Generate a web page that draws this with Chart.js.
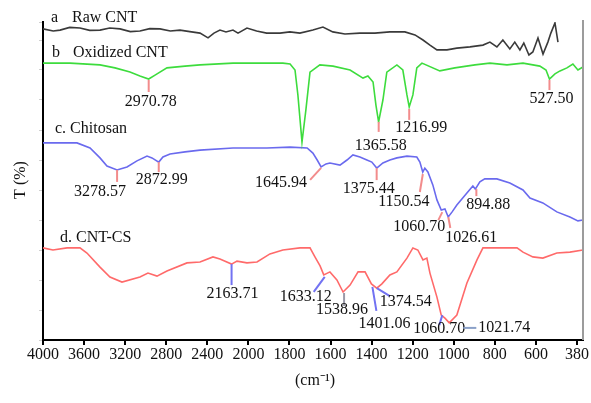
<!DOCTYPE html>
<html>
<head>
<meta charset="utf-8">
<script src="https://cdn.jsdelivr.net/npm/chart.js@4/dist/chart.umd.min.js"></script>
<style>
  html, body { margin: 0; padding: 0; background: #fff; }
  #wrap { position: relative; width: 591px; height: 403px; }
</style>
</head>
<body>
<div id="wrap"><canvas id="c" width="591" height="403"></canvas></div>
<script>
// ---------- data (wavenumber in cm^-1, transmittance in arbitrary T units) ----------
const xTickValues = [4000, 3600, 3200, 2800, 2400, 2000, 1800, 1600, 1400, 1200, 1000, 800, 600, 380];

const seriesNames = ["Raw CNT", "Oxidized CNT", "c. Chitosan", "d. CNT-CS"];

const rawWn = [4000,3900,3834,3740,3640,3545,3445,3350,3250,3150,3056,2960,2861,2760,2666,2570,2471,2393,2335,2277,2218,2150,2101,2014,1960,1911,1846,1798,1749,1686,1637,1589,1530,1457,1384,1311,1238,1189,1150,1116,1082,1033,985,921,858,824,790,761,727,703,678,659,634,615,589,562,536,520,498,482];
const rawT  = [103.7,103,103.3,104.2,104,103.2,103.3,104,103.7,102.8,103,103.8,103.7,103,103.3,102.8,102.3,100.7,102.3,103.3,102.7,103.3,102.3,104,103,102.3,102.3,102.7,102.3,103.3,104.3,102.7,102,102.3,102.3,102.7,102.7,101.7,100,98.3,96.7,96.7,97.3,97.7,98.3,99.3,97.7,100,97,99.3,96.7,99,95,96,100.7,95.3,99.3,102.3,105.7,99.3];

const oxWn = [4000,3737,3445,3299,3153,3056,2971,2909,2793,2617,2471,2150,1832,1797,1773,1759,1739,1720,1700,1652,1588,1505,1442,1418,1393,1379,1366,1345,1326,1277,1248,1228,1217,1199,1180,1155,1068,995,897,824,741,663,579,546,527.5,498,471,434,402,375,348];
const oxT  = [92.3,92.3,91.7,90.7,89.3,88,87,88.3,90.7,91.3,91.7,92.3,92.3,92,90,81.7,66,76.7,89.3,91.7,91.3,90,87.3,88,86,78.3,72.7,80,89.3,91.7,90,81.7,77.7,81.7,90.7,92.3,89.7,90.7,91.7,92.3,91.7,92.3,91.3,90,87,88.7,89.7,90.7,92,90,91];

const csWn = [4000,3669,3542,3445,3377,3279,3182,3085,2987,2939,2873,2832,2763,2617,2471,2150,1910,1797,1714,1686,1665,1646,1622,1603,1554,1520,1491,1457,1423,1399,1375,1345,1311,1277,1228,1180,1165,1151,1141,1126,1102,1082,1061,1043,1027,1008,985,936,907,895,873,849,790,727,663,629,563,488,418,375,348];
const csT  = [65.7,65.7,64,60.7,58,56.7,57.7,59.7,61.3,60.7,59.3,61,62,62.7,63.3,64,64,64.3,64,62.3,60,57.7,58.7,59,58.3,60,61.7,61,60,59.3,57.3,59,60,60.7,61.3,61,59.3,56,57.3,56,51.7,46.7,43.3,43.7,41,42.7,45,49,51.3,50.3,52.7,53.7,53.7,52.3,50,47.3,45.7,42.7,41,39.7,40];

const cntcsWn = [4000,3903,3766,3640,3572,3445,3348,3231,3056,2978,2890,2793,2598,2471,2345,2277,2164,2111,2014,1958,1895,1832,1749,1700,1676,1651,1633,1603,1569,1539,1505,1466,1432,1401,1375,1350,1311,1277,1228,1199,1175,1150,1131,1116,1082,1061,1043,1022,985,936,887,858,692,663,615,563,488,418,348];
const cntcsT  = [30.7,30,30.7,30.7,29,24.3,21,19.3,21,22.3,21.3,23,25.7,26,27.7,27,25.3,26.3,25.7,26,28.7,30,30.7,30.7,27.7,24.7,21.7,22.7,20,16,18.3,22.7,22.7,18.7,17.3,18.7,21.7,22.7,27.3,30.7,30,26.7,27.3,22.3,14.3,8.3,7.3,5.7,8.3,19,26.7,30.7,30.7,29.3,27.7,27.3,29,29.3,30];

// peak annotations: label text, wavenumber, T at the peak
const peakLabelsB = ["2970.78", "1365.58", "1216.99", "527.50"];
const peakWnB     = [2970.78, 1365.58, 1216.99, 527.50];
const peakTB      = [87, 72.7, 77.7, 87];

const peakLabelsC = ["3278.57", "2872.99", "1645.94", "1375.44", "1150.54", "1060.70", "1026.61", "894.88"];
const peakWnC     = [3278.57, 2872.99, 1645.94, 1375.44, 1150.54, 1060.70, 1026.61, 894.88];
const peakTC      = [56.7, 59.3, 57.7, 57.3, 56, 43.3, 41, 50.3];

const peakLabelsD = ["2163.71", "1633.12", "1538.96", "1401.06", "1374.54", "1060.70", "1021.74"];
const peakWnD     = [2163.71, 1633.12, 1538.96, 1401.06, 1374.54, 1060.70, 1021.74];
const peakTD      = [25.3, 21.7, 16, 18.7, 17.3, 8.3, 5.7];

// ---------- styling / geometry (not data) ----------
const FONT = '"Liberation Serif", "Times New Roman", serif';
const RED_MARK = '#f28c8c', BLUE_MARK = '#7272f2', GRAY_MARK = '#9a9aa8';
// [x1,y1,x2,y2] leader offsets and [lx,ly] label-centre offsets in px from the peak point
const styleB = [
  {line:[0,1,0,13], lab:[2,23], c:RED_MARK},
  {line:[0,0,0,10], lab:[2,24], c:RED_MARK},
  {line:[0,2,0,13], lab:[12,21], c:RED_MARK},
  {line:[0,1,0,11], lab:[2,20], c:RED_MARK}
];
const styleC = [
  {line:[0,0,0,12], lab:[-17,22], c:RED_MARK},
  {line:[0,0,0,10], lab:[3,18], c:RED_MARK},
  {line:[0,1,-11,13], lab:[-40,16], c:RED_MARK},
  {line:[0,0,0,12], lab:[-8,21], c:RED_MARK},
  {line:[0,2,-3,20], lab:[-19,30], c:RED_MARK},
  {line:[1,2,-3,10], lab:[-22,17], c:RED_MARK},
  {line:[0,0,2,11], lab:[23,21], c:RED_MARK},
  {line:[1,0,1,7], lab:[13,16], c:RED_MARK}
];
const styleD = [
  {line:[0,0,0,21], lab:[1,30], c:BLUE_MARK},
  {line:[1,2,-10,17], lab:[-18,22], c:BLUE_MARK},
  {line:[1,1,1,14], lab:[-1,18], c:GRAY_MARK},
  {line:[1,3,5,27], lab:[13,40], c:BLUE_MARK},
  {line:[0,0,13,8], lab:[29,14], c:BLUE_MARK},
  {line:[1,0,-2,10], lab:[-2,14], c:BLUE_MARK},
  {line:[14,5,27,5], lab:[55,5], c:'#8aa0c8'}
];

// ---------- broken wavenumber axis (400 per division above 2000, 200 below) ----------
const XMAX_POS = 13.146;
function wnToPos(w) {
  if (w >= 2000) return (4000 - w) / 400;
  if (w >= 600) return 5 + (2000 - w) / 200;
  return 12 + (600 - w) / 220;
}
function posToWn(p) {
  if (p <= 5) return 4000 - 400 * p;
  if (p <= 12) return 2000 - 200 * (p - 5);
  return 600 - 220 * (p - 12);
}
class BrokenWavenumberScale extends Chart.LinearScale {
  determineDataLimits() { this.min = 0; this.max = XMAX_POS; }
  buildTicks() { return xTickValues.map(v => ({ value: v })); }
  getPixelForValue(v) { return v === null ? NaN : this.getPixelForDecimal(wnToPos(v) / XMAX_POS); }
  getValueForPixel(px) { return posToWn(this.getDecimalForPixel(px) * XMAX_POS); }
}
BrokenWavenumberScale.id = 'brokenWn';
BrokenWavenumberScale.defaults = {};
Chart.register(BrokenWavenumberScale);

function toPts(wn, t) { return wn.map((w, k) => ({ x: w, y: t[k] })); }

const decor = {
  id: 'decor',
  afterDatasetsDraw(chart) {
    const ctx = chart.ctx, xs = chart.scales.x, ys = chart.scales.y, a = chart.chartArea;
    ctx.save();
    // right frame line
    ctx.strokeStyle = '#9c9c9c'; ctx.lineWidth = 2;
    ctx.beginPath(); ctx.moveTo(a.right, a.top - 2); ctx.lineTo(a.right, a.bottom); ctx.stroke();

    function peaks(labels, wns, ts, styles) {
      labels.forEach((lab, i) => {
        const px = xs.getPixelForValue(wns[i]), py = ys.getPixelForValue(ts[i]);
        const s = styles[i];
        ctx.strokeStyle = s.c; ctx.lineWidth = 2;
        ctx.beginPath(); ctx.moveTo(px + s.line[0], py + s.line[1]); ctx.lineTo(px + s.line[2], py + s.line[3]); ctx.stroke();
        ctx.fillStyle = '#111'; ctx.font = '16px ' + FONT;
        ctx.textAlign = 'center'; ctx.textBaseline = 'middle';
        ctx.fillText(lab, px + s.lab[0], py + s.lab[1]);
      });
    }
    peaks(peakLabelsB, peakWnB, peakTB, styleB);
    peaks(peakLabelsC, peakWnC, peakTC, styleC);
    peaks(peakLabelsD, peakWnD, peakTD, styleD);

    // series captions
    ctx.fillStyle = '#111'; ctx.font = '16px ' + FONT;
    ctx.textAlign = 'left'; ctx.textBaseline = 'middle';
    ctx.fillText('a', a.left + 8, 18);
    ctx.fillText(seriesNames[0], a.left + 29, 18);
    ctx.fillText('b', a.left + 9, 53);
    ctx.fillText(seriesNames[1], a.left + 30, 53);
    ctx.fillText(seriesNames[2], a.left + 12, 129);
    ctx.fillText(seriesNames[3], a.left + 17, 238);

    // axis titles
    ctx.textAlign = 'center';
    ctx.fillText('(cm\u207B\u00B9)', 315, 381);
    ctx.translate(21, 180); ctx.rotate(-Math.PI / 2);
    ctx.fillText('T (%)', 0, 0);
    ctx.restore();
  }
};

const lineDs = (label, data, color, w) => ({
  label, data, borderColor: color, borderWidth: w, pointRadius: 0, tension: 0, fill: false
});

new Chart(document.getElementById('c'), {
  type: 'line',
  data: {
    datasets: [
      lineDs(seriesNames[0], toPts(rawWn, rawT), '#3a3a3a', 1.6),
      lineDs(seriesNames[1], toPts(oxWn, oxT), '#3ddc3d', 1.6),
      lineDs(seriesNames[2], toPts(csWn, csT), '#6a6aee', 1.6),
      lineDs(seriesNames[3], toPts(cntcsWn, cntcsT), '#ff6a6a', 1.6)
    ]
  },
  options: {
    responsive: false, animation: false,
    layout: { padding: { left: 0, top: 22, right: 8, bottom: 0 } },
    plugins: { legend: { display: false }, tooltip: { enabled: false }, title: { display: false } },
    scales: {
      x: {
        type: 'brokenWn', position: 'bottom',
        grid: { drawOnChartArea: false, drawTicks: true, tickLength: 5, color: '#000', lineWidth: 2 },
        border: { color: '#000', width: 2 },
        ticks: { autoSkip: false, maxRotation: 0, padding: 0, color: '#111',
                 font: { family: FONT, size: 16 }, callback: v => String(v) },
        afterFit: s => { s.height = 63; }
      },
      y: {
        type: 'linear', min: 0, max: 106,
        grid: { drawOnChartArea: false, drawTicks: true, tickLength: 4, color: '#cfcfcf', lineWidth: 1 },
        border: { color: '#000', width: 2 },
        ticks: { stepSize: 10, display: false },
        afterFit: s => { s.width = 43; }
      }
    }
  },
  plugins: [decor]
});
</script>
</body>
</html>
